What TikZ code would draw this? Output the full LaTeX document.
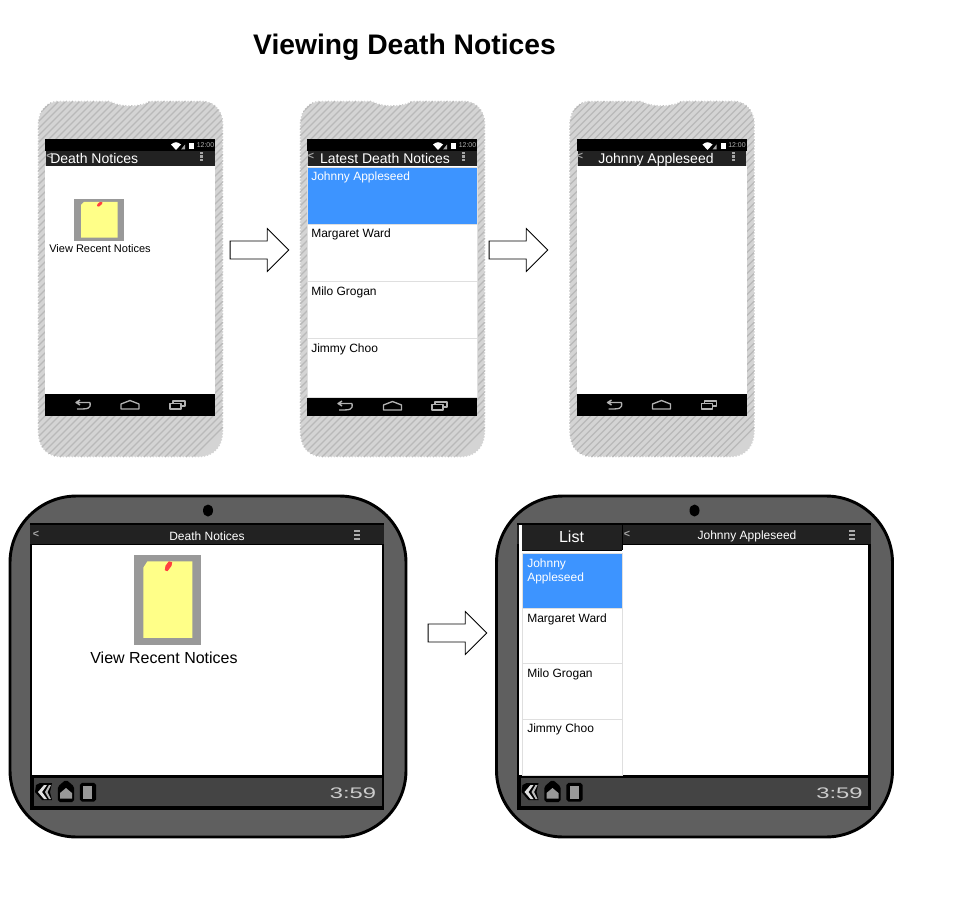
\documentclass[tikz,border=0pt]{standalone}
\usepackage{fontspec}
\setmainfont{Liberation Sans}
\usetikzlibrary{shapes.arrows,decorations.pathmorphing}
\definecolor{barcol}{HTML}{222222}
\definecolor{listblue}{HTML}{3D94FF}
\definecolor{notecol}{HTML}{FFFF88}
\definecolor{iconback}{HTML}{999999}
\definecolor{sketchcol}{HTML}{D4D4D4}
\definecolor{hatchcol}{HTML}{B0B0B0}
\definecolor{tabletcol}{HTML}{5F5F5F}
\definecolor{sysbar}{HTML}{444444}
\tikzset{
  bartext/.style={text=white, inner sep=0pt, font=\fontsize{10.5}{12}\selectfont},
  smalltitle/.style={text=white, inner sep=0pt, font=\fontsize{9}{11}\selectfont},
  rowtext/.style={anchor=north west, inner sep=0pt, align=left, font=\fontsize{9}{10.5}\selectfont},
  backmark/.style={text=gray!70, inner sep=0pt, font=\bfseries\fontsize{8}{9}\selectfont},
  nextarrow/.style={draw, single arrow, fill=white, line width=0.6pt, minimum width=31.5pt,
    minimum height=44pt, single arrow head extend=9.4pt, single arrow head indent=0pt,
    inner xsep=0pt, inner ysep=6.4pt},
  navicon/.style={draw=gray!60, line width=1pt, line join=round},
  sysicon/.style={fill=black, draw=black, line width=1.6pt, rounded corners=1pt},
  sysinner/.style={fill=iconback}
}
% sticky note icon: #1 #2 top left, #3 #4 size
\newcommand{\stickynote}[4]{
  \begin{scope}[shift={(#1,#2)}, x=#3*0.75pt, y=-#4*0.75pt]
    \fill[iconback] (0,0) rectangle (1,1);
    \fill[notecol] (0.2,0.07) -- (0.87,0.07) -- (0.87,0.92) -- (0.14,0.92) -- (0.14,0.14) -- cycle;
    \fill[red!75!white] (0.46,0.17) -- (0.47,0.12) -- (0.52,0.07) -- (0.57,0.08) -- (0.56,0.12) -- (0.5,0.18) -- cycle;
  \end{scope}
}
% hand drawn phone, x position given by the scope
\newcommand{\phonebody}[1]{
  \begin{scope}[shift={(#1,0)}]
    \begin{scope}
      \clip[decorate, decoration={bumps, segment length=4.5pt, amplitude=1.1pt}]
        (59,102) -- (110,102) .. controls (120,108) and (140,108) .. (150,102) -- (201,102)
        .. controls (215,102) and (222,112) .. (222,125) -- (222,430)
        .. controls (222,448) and (212,456) .. (198,456) -- (62,456)
        .. controls (48,456) and (39,448) .. (39,430) -- (39,125)
        .. controls (39,112) and (47,102) .. (59,102) -- cycle;
      \fill[sketchcol] (30,90) rectangle (232,466);
      \foreach \d in {0,7,...,560}
        \draw[hatchcol, line width=0.9pt, opacity=0.75] (30,\d+60) -- (\d+30,60);
    \end{scope}
    \fill[white] (45,166) rectangle (215,394);
    \fill[black] (45,139) rectangle (215,151);
    \fill[barcol] (46,151) rectangle (214.5,166);
    \fill[black] (45,394) rectangle (215,416);
    % status bar
    \fill[white] (171,144.5) -- (176,150) -- (181,144.5) .. controls (177,141.5) and (175,141.5) .. (171,144.5) -- cycle;
    \fill[gray!70] (181,149.5) -- (185,144.5) -- (185,149.5) -- cycle;
    \fill[white] (189,143) rectangle (194,149.5);
    \node[text=gray!60, inner sep=0pt, font=\fontsize{5.2}{6}\selectfont] (clock#1) at (205.5,145.5) {12:00};
    % menu dots
    \foreach \dy in {152,155.5,159}
      \fill[gray!70] (200,\dy) rectangle (203,\dy+2.5);
    % nav bar
    \draw[navicon] (90,402.5) -- (77,402.5) (80,400) -- (76,402.5) -- (80,405) (90,402.5) .. controls (91,409) and (88,409) .. (77,409);
    \draw[navicon] (121,409) -- (121,404) -- (130,400.5) -- (139,404) -- (139,409) -- cycle;
    \draw[navicon] (170,403.5) rectangle (181,409) (173,403) -- (173,401) -- (185,401) -- (185,406) -- (181.5,406);
  \end{scope}
}
% tablet frame, x position given by the scope
\newcommand{\tabletbody}[1]{
  \begin{scope}[shift={(#1,0)}]
    \draw[black, fill=tabletcol, line width=2.2pt, rounded corners=50pt] (10,496) rectangle (406,837);
    \fill[black] (208,510.5) ellipse (5 and 6);
    \fill[black] (30,523) rectangle (384,810);
    \fill[white] (32,545) rectangle (381.5,775);
    \fill[barcol] (30,525) rectangle (384,544);
    \fill[sysbar] (34,778) rectangle (381.5,805.5);
    % back chevron
    \fill[black] (36,785) -- (40,783) -- (52,783) -- (50,792) -- (52,800) -- (42,800) -- (35,792) -- cycle;
    \fill[gray!25] (44,785) -- (38,792) -- (44,799) -- (47,799) -- (42,792) -- (47,785) -- cycle;
    \fill[gray!55] (49,785) -- (45,792) -- (49,799) -- (51,799) -- (47.5,792) -- (51,785) -- cycle;
    % home
    \draw[sysicon] (59,787) -- (66,781) -- (73,787) -- (73,801) -- (59,801) -- cycle;
    \fill[sysinner] (60,793) -- (66,788) -- (72,793) -- (72,798.5) -- (60,798.5) -- cycle;
    % menu
    \draw[sysicon] (81,784) rectangle (95,800.5);
    \fill[sysinner] (83,785.5) rectangle (92,798.5);
    \node[xscale=1.55, text=gray!40, inner sep=0pt, font=\fontsize{11.5}{13}\selectfont] (time#1) at (353,793) {3:59};
  \end{scope}
}
\begin{document}
\begin{tikzpicture}[x=0.75pt, y=-0.75pt]
  \useasboundingbox (0,0) rectangle (963,909);
  \node[inner sep=0pt, font=\bfseries\fontsize{21.2}{25}\selectfont] (heading) at (404.5,47.5) {Viewing Death Notices};

  % top row
  \phonebody{0}
  \phonebody{262}
  \phonebody{531.5}

  \node[backmark] (back1) at (49.5,156) {<};
  \node[bartext, anchor=west] (title1) at (50,158.5) {Death Notices};
  \stickynote{74}{199}{50}{42}
  \node[inner sep=0pt, font=\fontsize{8.25}{10}\selectfont] (view1) at (100,249) {View Recent Notices};

  \fill[white] (307,167) rectangle (477,397);
  \fill[black] (307,397) rectangle (477,416);
  \draw[navicon] (352,403.5) -- (339,403.5) (342,401) -- (338,403.5) -- (342,406) (352,403.5) .. controls (353,410) and (350,410) .. (339,410);
  \draw[navicon] (383.5,410) -- (383.5,405) -- (392.5,401.5) -- (401.5,405) -- (401.5,410) -- cycle;
  \draw[navicon] (432,404.5) rectangle (443,410) (435,404) -- (435,402) -- (447,402) -- (447,407) -- (443.5,407);
  \fill[listblue] (307,167) rectangle (477,224);
  \node[bartext, anchor=center] (title2) at (385,158.5) {Latest Death Notices};
  \node[backmark] (back2) at (311,156) {<};
  \node[rowtext, text=white] (row21) at (311,172) {Johnny Appleseed};
  \node[rowtext] (row22) at (311,229) {Margaret Ward};
  \node[rowtext] (row23) at (311,287) {Milo Grogan};
  \node[rowtext] (row24) at (311,344) {Jimmy Choo};
  \draw[gray!25] (307,167) rectangle (477,397) (307,224) -- (477,224) (307,281.5) -- (477,281.5) (307,338.5) -- (477,338.5);

  \node[backmark] (back3) at (580,156) {<};
  \node[bartext] (title3) at (656,160) {Johnny Appleseed};

  \node[nextarrow] (arrow1) at (255,250) {};
  \node[nextarrow] (arrow2) at (514,250) {};

  % bottom row
  \tabletbody{0}
  \tabletbody{486.5}

  \node[backmark] (back4) at (36,534) {<};
  \node[smalltitle] (title4) at (207,536) {Death Notices};
  \foreach \dy in {530,534,538}
    \fill[gray!65] (354,\dy) rectangle (360,\dy+2);
  \stickynote{134}{555}{67}{90}
  \node[inner sep=0pt, font=\fontsize{12}{14}\selectfont] (view4) at (164,657.5) {View Recent Notices};

  \node[nextarrow] (arrow3) at (453,633) {};

  \fill[white] (519,525) rectangle (522,545);
  \fill[barcol] (522,524) rectangle (622,550);
  \draw[black] (522,524) -- (622,524) (622,524) -- (622,550) (522,550) -- (622,550);
  \fill[listblue] (523,554) rectangle (622,608);
  \draw[gray!25] (522.5,553.5) rectangle (622,775) (522.5,608) -- (622,608) (522.5,663.5) -- (622,663.5) (522.5,719.5) -- (622,719.5);
  \node[text=white, inner sep=0pt, font=\fontsize{12}{14}\selectfont] (listhead) at (571.5,536.5) {List};
  \node[backmark] (back5) at (627,534) {<};
  \node[smalltitle] (title5) at (747,536.5) {Johnny Appleseed};
  \foreach \dy in {530,534,538}
    \fill[gray!65] (849,\dy) rectangle (855,\dy+2);
  \node[rowtext, text=white] (row51) at (527,559) {Johnny\\Appleseed};
  \node[rowtext] (row52) at (527,614) {Margaret Ward};
  \node[rowtext] (row53) at (527,669) {Milo Grogan};
  \node[rowtext] (row54) at (527,724) {Jimmy Choo};
\end{tikzpicture}
\end{document}
